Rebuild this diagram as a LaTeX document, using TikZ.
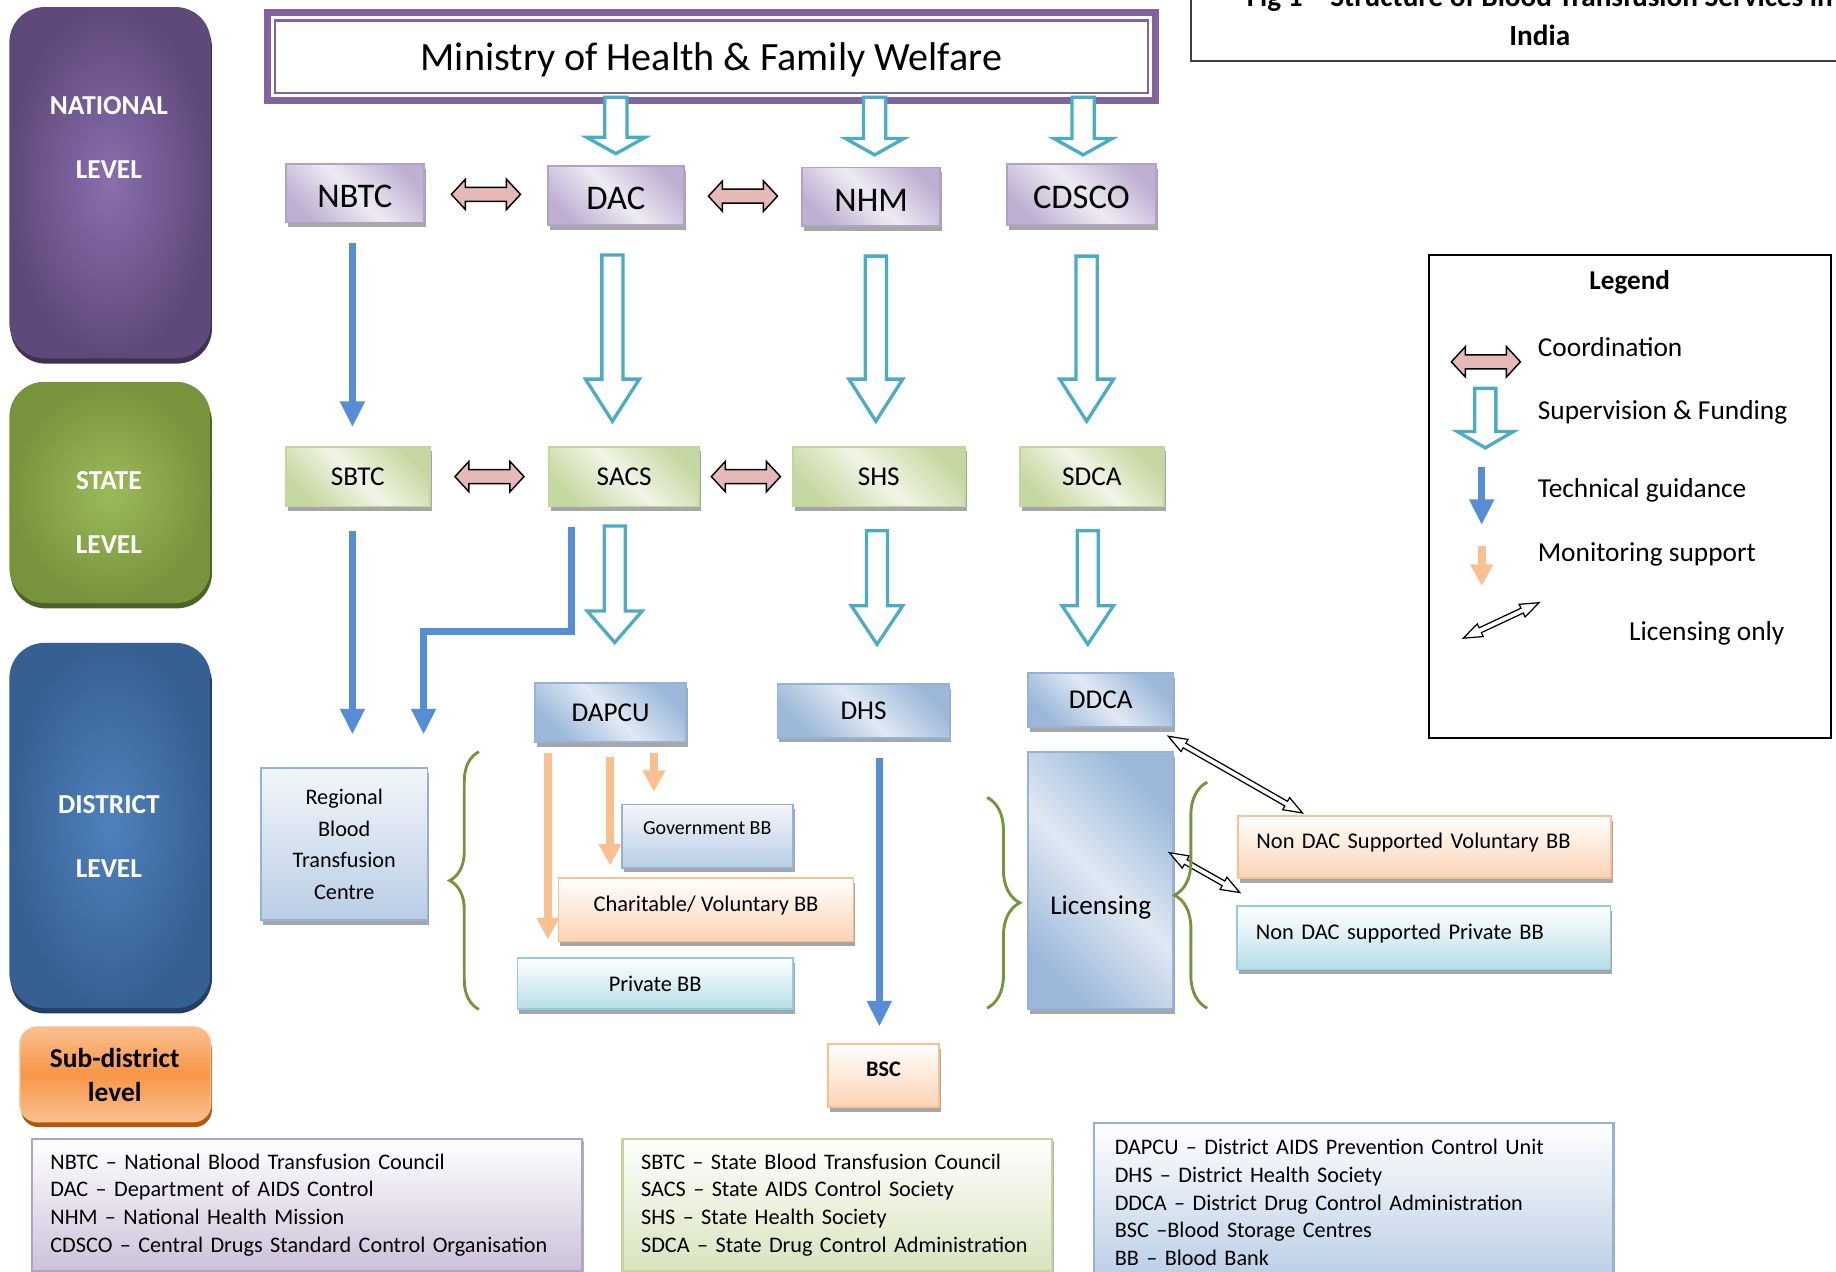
\documentclass[tikz,border=0pt]{standalone}
\usepackage{fontspec}
\setmainfont{Carlito}
\usetikzlibrary{calc,arrows.meta,shadows,decorations.pathreplacing}

\definecolor{natdark}{HTML}{5F497A}
\definecolor{natlight}{HTML}{8A6EAE}
\definecolor{natshade}{HTML}{3F3151}
\definecolor{stdark}{HTML}{77933C}
\definecolor{stlight}{HTML}{9BBB59}
\definecolor{stshade}{HTML}{4F6228}
\definecolor{disdark}{HTML}{366092}
\definecolor{dislight}{HTML}{4F81BD}
\definecolor{disshade}{HTML}{244061}
\definecolor{subor}{HTML}{F79646}
\definecolor{subor2}{HTML}{FAC090}
\definecolor{subshade}{HTML}{B65708}
\definecolor{minpur}{HTML}{8064A2}
\definecolor{purbord}{HTML}{B3A2C7}
\definecolor{purfill}{HTML}{BFB0D3}
\definecolor{purpale}{HTML}{EEEBF3}
\definecolor{purlow}{HTML}{CCC1DA}
\definecolor{grnbord}{HTML}{C3D69B}
\definecolor{grnfill}{HTML}{C6D8A1}
\definecolor{grnpale}{HTML}{F0F5E6}
\definecolor{grnlow}{HTML}{D7E4BD}
\definecolor{blubord}{HTML}{95B3D7}
\definecolor{blufill}{HTML}{9BB8DA}
\definecolor{blupale}{HTML}{E0E9F3}
\definecolor{blulow}{HTML}{B9CDE5}
\definecolor{orbord}{HTML}{FAC090}
\definecolor{orfill}{HTML}{FBD3B3}
\definecolor{cybord}{HTML}{93CDDD}
\definecolor{cyfill}{HTML}{B7DEE8}
\definecolor{supcol}{HTML}{4BACC6}
\definecolor{techcol}{HTML}{558ED5}
\definecolor{moncol}{HTML}{FAC090}
\definecolor{coocol}{HTML}{E6B9B8}
\definecolor{bracecol}{HTML}{77933C}

\tikzset{
  orgbox/.style={line width=0.85pt, inner sep=0pt,
    general shadow={fill=black!35, shadow xshift=0.9pt, shadow yshift=-2.3pt}},
  natbox/.style={orgbox, draw=purbord, top color=purfill, bottom color=purfill,
    middle color=purpale, shading angle=-45, text height=14pt, text depth=0pt,
    font=\fontsize{16.8}{20}\selectfont},
  stbox/.style={orgbox, draw=grnbord, top color=grnfill, bottom color=grnfill,
    middle color=grnpale, shading angle=-45, font=\fontsize{13.2}{16}\selectfont},
  disbox/.style={orgbox, draw=blubord, top color=blufill, bottom color=blufill,
    middle color=blupale, shading angle=-45, font=\fontsize{13.2}{16}\selectfont},
  bbblue/.style={orgbox, draw=blubord, top color=blupale!40!white, bottom color=blulow},
  bbor/.style={orgbox, draw=orbord, top color=white, bottom color=orfill},
  bbcy/.style={orgbox, draw=cybord, top color=white, bottom color=cyfill},
  lvl/.style={rounded corners=0.6cm, inner sep=0pt,
    general shadow={fill=#1, shadow xshift=0.6pt, shadow yshift=-2.6pt}},
  lvltxt/.style={text=white, align=center, font=\bfseries\fontsize{13.3}{31.3}\selectfont},
  suparr/.style={draw=supcol, fill=white, line width=1.6pt, line join=miter},
  techarr/.style={draw=techcol, line width=3.4pt, -{Triangle[length=12.5pt,width=11.4pt]}},
  monarr/.style={draw=moncol, line width=3.7pt, -{Triangle[length=10.5pt,width=10.5pt]}},
  coarr/.style={draw=black, fill=coocol, line width=0.7pt, line join=miter},
  licarr/.style={draw=black, fill=white, line width=0.6pt, line join=miter},
  brc/.style={draw=bracecol, line width=1.4pt, decorate},
  abbox/.style={line width=1.1pt, inner xsep=0.32cm, inner ysep=0pt, align=left,
    font=\fontsize{10.8}{13.5}\selectfont,
    general shadow={fill=black!30, shadow xshift=0.9pt, shadow yshift=-0.9pt}},
  lgtxt/.style={anchor=base west, inner sep=0pt, font=\fontsize{13.3}{16}\selectfont},
}

\newcommand{\supflow}[5]{%
  \path #1 coordinate (sa) #2 coordinate (sb);
  \coordinate (sc) at (sa |- sb);
  \draw[suparr] ($(sa)+(-#3,0)$) -- ($(sc)+(-#3,-#5)$) -- ($(sc)+(-#4,-#5)$) -- (sc)
    -- ($(sc)+(#4,-#5)$) -- ($(sc)+(#3,-#5)$) -- ($(sa)+(#3,0)$) -- cycle;
}
\newcommand{\coordflow}[2]{%
  \coordinate (cmid) at ($(#1.east)!0.5!(#2.west)$);
  \draw[coarr] ($(cmid)+(-29.5,0)$) -- ++(12,-13) -- ++(0,7) -- ++(35,0) -- ++(0,-7)
    -- ++(12,13) -- ++(-12,13) -- ++(0,-7) -- ++(-35,0) -- ++(0,7) -- cycle;
}
\newcommand{\licflow}[2]{%
  \draw[licarr] (#1) -- ($(#1)!9.1pt!(#2)!3.4pt!90:(#2)$) -- ($(#1)!9.1pt!(#2)!1.3pt!90:(#2)$)
    -- ($(#2)!9.1pt!(#1)!1.3pt!-90:(#1)$) -- ($(#2)!9.1pt!(#1)!3.4pt!-90:(#1)$) -- (#2)
    -- ($(#2)!9.1pt!(#1)!3.4pt!90:(#1)$) -- ($(#2)!9.1pt!(#1)!1.3pt!90:(#1)$)
    -- ($(#1)!9.1pt!(#2)!1.3pt!-90:(#2)$) -- ($(#1)!9.1pt!(#2)!3.4pt!-90:(#2)$) -- cycle;
}

\begin{document}
\begin{tikzpicture}[x=0.02cm, y=-0.02cm]
  \useasboundingbox (0,0) rectangle (1568,1086);
  \clip (0,0) rectangle (1568,1086);

  % levels
  \node[lvl=natshade, inner color=natlight, outer color=natdark, minimum width=3.44cm, minimum height=6cm] (natlvl) at (94,156) {};
  \node[lvl=stshade, inner color=stlight, outer color=stdark, minimum width=3.44cm, minimum height=3.78cm] (stlvl) at (94,420.5) {};
  \node[lvl=disshade, inner color=dislight, outer color=disdark, minimum width=3.44cm, minimum height=6.24cm] (dislvl) at (94,705) {};
  \node[lvl=subshade, rounded corners=0.3cm, draw=subor2, line width=0.6pt, top color=subor2, bottom color=subor2, middle color=subor, minimum width=3.26cm, minimum height=1.62cm] (sublvl) at (98.5,917.5) {};
  \node[lvltxt] at (93,117.5) {NATIONAL\\LEVEL};
  \node[lvltxt] at (93,437.5) {STATE\\LEVEL};
  \node[lvltxt] at (93,714.5) {DISTRICT\\LEVEL};
  \node[align=center, font=\bfseries\fontsize{13.3}{16.3}\selectfont] at (98,918) {Sub-district\\level};

  % title
  \draw[black!75, line width=1.1pt] (1017,-5) -- (1017,52) -- (1580,52);
  \node[anchor=south, inner sep=0pt, align=center, font=\bfseries\fontsize{14.2}{18.8}\selectfont] at (1315,39) {Fig 1 – Structure of Blood Transfusion Services in\\India};

  % ministry
  \node[draw=minpur, line width=3.4pt, fill=white, minimum width=15.18cm, minimum height=1.5cm, text depth=0pt, font=\fontsize{19.5}{23}\selectfont] (ministry) at (607.5,48.5) {Ministry of Health \& Family Welfare};
  \draw[minpur, line width=1.1pt] ([shift={(9.5,9.5)}]ministry.north west) rectangle ([shift={(-9.5,-9.5)}]ministry.south east);

  % national
  \node[natbox, minimum width=2.36cm, minimum height=1cm] (nbtc) at (303,165) {NBTC};
  \node[natbox, minimum width=2.32cm, minimum height=1cm] (dac) at (526,167) {DAC};
  \node[natbox, minimum width=2.36cm, minimum height=1cm] (nhm) at (744,168) {NHM};
  \node[natbox, minimum width=2.54cm, minimum height=1.04cm] (cdsco) at (923.5,166) {CDSCO};

  % state
  \node[stbox, minimum width=2.46cm, minimum height=1.02cm] (sbtc) at (305.5,407) {SBTC};
  \node[stbox, minimum width=2.56cm, minimum height=1.02cm] (sacs) at (533,407) {SACS};
  \node[stbox, minimum width=2.94cm, minimum height=1.02cm] (shs) at (750.5,407) {SHS};
  \node[stbox, minimum width=2.46cm, minimum height=1.02cm] (sdca) at (932.5,407) {SDCA};

  % district
  \node[disbox, minimum width=2.58cm, minimum height=1cm] (dapcu) at (521.5,608.5) {DAPCU};
  \node[disbox, minimum width=2.94cm, minimum height=0.92cm] (dhs) at (737.5,607) {DHS};
  \node[disbox, minimum width=2.48cm, minimum height=0.92cm] (ddca) at (940,598) {DDCA};
  \node[disbox, minimum width=2.48cm, minimum height=4.4cm, text height=35pt] (licen) at (940,752) {Licensing};
  \node[bbblue, align=center, minimum width=2.84cm, minimum height=2.6cm, font=\fontsize{10.8}{15.4}\selectfont] (rbtc) at (294,721) {Regional\\Blood\\Transfusion\\Centre};
  \node[bbblue, minimum width=2.92cm, minimum height=1.08cm, text depth=8pt, font=\fontsize{9.7}{12}\selectfont] (govbb) at (604,714) {Government BB};
  \node[bbor, minimum width=5.04cm, minimum height=1.08cm, text depth=6pt, font=\fontsize{10.9}{13}\selectfont] (charbb) at (603,777) {Charitable/ Voluntary BB};
  \node[bbcy, minimum width=4.7cm, minimum height=0.88cm, font=\fontsize{10.9}{13}\selectfont] (privbb) at (559.5,840) {Private BB};
  \node[bbor, minimum width=1.9cm, minimum height=1.08cm, text depth=6pt, font=\bfseries\fontsize{10.8}{13}\selectfont] (bsc) at (754.5,918.5) {BSC};
  \node[bbor, text width=5.74cm, inner xsep=0.32cm, align=left, minimum height=1.06cm, text depth=6pt, font=\fontsize{10.9}{13}\selectfont] (ndv) at (1216.5,723.5) {Non DAC Supported Voluntary BB};
  \node[bbcy, text width=5.74cm, inner xsep=0.32cm, align=left, minimum height=1.08cm, text depth=6pt, font=\fontsize{10.9}{13}\selectfont] (ndp) at (1216,801) {Non DAC supported Private BB};

  % supervision and funding
  \supflow{($(ministry.south -| dac)+(0,-6)$)}{($(dac.north)+(0,-10)$)}{9.5}{25}{14}
  \supflow{($(ministry.south -| nhm)+(3,-6)$)}{($(nhm.north)+(0,-10)$)}{9.5}{25}{14}
  \supflow{($(ministry.south -| cdsco)+(1.5,-6)$)}{($(cdsco.north)+(0,-7)$)}{9.5}{25}{14}
  \supflow{($(dac.south)+(-3,25)$)}{($(sacs.north)+(0,-21)$)}{9}{23}{36}
  \supflow{($(nhm.south)+(4,25)$)}{($(shs.north)+(0,-21)$)}{9}{23}{36}
  \supflow{($(cdsco.south)+(4.5,26)$)}{($(sdca.north)+(0,-21)$)}{9}{23}{36}
  \supflow{($(sacs.south)+(-8,16)$)}{($(dapcu.north)+(0,-34)$)}{9}{23.5}{27}
  \supflow{($(shs.south)+(-1.5,20)$)}{($(dhs.north)+(0,-33)$)}{9}{22}{33}
  \supflow{($(sdca.south)+(-3.5,20)$)}{($(ddca.north)+(0,-24)$)}{9}{22}{33}

  % coordination
  \coordflow{nbtc}{dac}
  \coordflow{dac}{nhm}
  \coordflow{sbtc}{sacs}
  \coordflow{sacs}{shs}

  % technical guidance
  \draw[techarr] ($(nbtc.south)+(-2,17)$) -- ($(nbtc.south |- sbtc.north)+(-2,-16)$);
  \draw[techarr] ($(sbtc.south)+(-4.5,20)$) -- ($(sbtc.south |- rbtc.north)+(-4.5,-28)$);
  \draw[techarr, line join=miter] ($(sacs.south)+(-45,17)$) |- ($(rbtc.north east)+(-4,-116)$) -- ($(rbtc.north east)+(-4,-28)$);
  \draw[techarr] ($(dhs.south)+(13.5,17)$) -- ($(dhs.south |- bsc.north)+(13.5,-14)$);

  % monitoring support
  \draw[monarr] ($(dapcu.south west)+(11.6,9)$) -- ($(dapcu.south west |- privbb.north)+(11.6,-15)$);
  \draw[monarr] ($(dapcu.south)+(-0.5,12)$) -- ($(dapcu.south |- charbb.north)+(-0.5,-10)$);
  \draw[monarr] ($(dapcu.south)+(37,9)$) -- ($(dapcu.south |- govbb.north)+(37,-10)$);

  % licensing
  \coordinate (l1a) at ($(ddca.south east)+(-5,7)$);
  \coordinate (l1b) at ($(ndv.north west)+(56,-2)$);
  \coordinate (l2a) at ($(licen.north east)+(-4,87)$);
  \coordinate (l2b) at ($(ndp.north west)+(3,-11)$);
  \licflow{l1a}{l1b}
  \licflow{l2a}{l2b}

  % braces
  \draw[brc, decoration={brace, amplitude=14.2pt}] (409,862) -- (409,642);
  \draw[brc, decoration={brace, amplitude=15.9pt}] (843,681) -- (843,861);
  \draw[brc, decoration={brace, amplitude=15.9pt}] (1031,861) -- (1031,668);

  % legend
  \node[draw, line width=1pt, fill=white, minimum width=6.87cm, minimum height=8.24cm,
    general shadow={fill=black!80, shadow xshift=0.6pt, shadow yshift=-0.6pt}] (legend) at (1391.75,424) {};
  \node[font=\bfseries\fontsize{13.2}{16}\selectfont] at ($(legend.north)+(0,24)$) {Legend};
  \coordinate (lgc1) at (1239,309);
  \coordinate (lgc2) at (1299,309);
  \coordinate (lgs1) at (1268.5,331.5);
  \coordinate (lgs2) at (1268.5,382.5);
  \coordinate (lgt1) at (1265.4,399);
  \coordinate (lgt2) at (1265.4,448.4);
  \coordinate (lgm1) at (1265.4,466);
  \coordinate (lgm2) at (1265.4,500.5);
  \coordinate (lgl1) at (1249.7,545);
  \coordinate (lgl2) at (1314.4,514.7);
  \coordflow{lgc1}{lgc2}
  \supflow{(lgs1)}{(lgs2)}{9}{24}{14}
  \draw[techarr] (lgt1) -- (lgt2);
  \draw[monarr] (lgm1) -- (lgm2);
  \licflow{lgl1}{lgl2}
  \node[lgtxt] at (1313,304.5) {Coordination};
  \node[lgtxt] at (1313,358.5) {Supervision \& Funding};
  \node[lgtxt] at (1313,424.5) {Technical guidance};
  \node[lgtxt] at (1313,479.5) {Monitoring support};
  \node[lgtxt] at (1391,547) {Licensing only};

  % abbreviations
  \node[abbox, draw=purbord, top color=white, bottom color=purlow, text width=8.76cm, minimum height=2.26cm] (abnat) at (262,1029) {NBTC – National Blood Transfusion Council\\DAC – Department of AIDS Control\\NHM – National Health Mission\\CDSCO – Central Drugs Standard Control Organisation};
  \node[abbox, draw=grnbord, top color=white, bottom color=grnlow, text width=6.7cm, minimum height=2.26cm] (abst) at (715,1029) {SBTC – State Blood Transfusion Council\\SACS – State AIDS Control Society\\SHS – State Health Society\\SDCA – State Drug Control Administration};
  \node[abbox, draw=blubord, top color=white, bottom color=blulow, inner xsep=0.36cm, text width=8.16cm, minimum height=2.72cm] (abdis) at (1156,1027) {DAPCU – District AIDS Prevention Control Unit\\DHS – District Health Society\\DDCA – District Drug Control Administration\\BSC –Blood Storage Centres\\BB – Blood Bank};
\end{tikzpicture}
\end{document}
